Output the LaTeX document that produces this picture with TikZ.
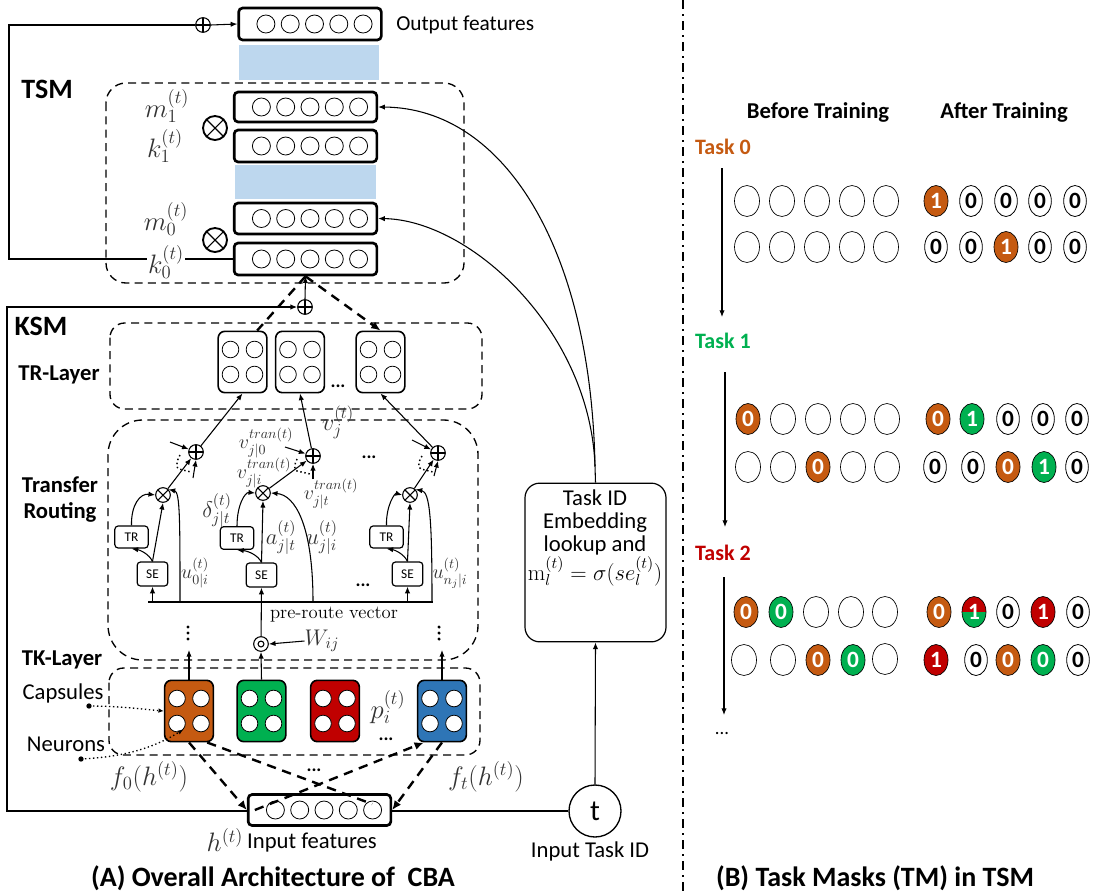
\RequirePackage{fix-cm}
\documentclass[tikz,border=0pt]{standalone}
\usepackage[no-math]{fontspec}
\setmainfont{Carlito}
\usetikzlibrary{arrows.meta,calc,shapes.geometric}
\definecolor{cor}{HTML}{C55A11}
\definecolor{cgr}{HTML}{00B050}
\definecolor{cre}{HTML}{C00000}
\definecolor{cbl}{HTML}{2E75B6}
\definecolor{lblue}{HTML}{BDD7EE}
\definecolor{mgray}{HTML}{333333}
\newcommand\fsz[1]{\fontsize{#1}{#1}\selectfont}
\tikzset{
 vbox/.style={draw, line width=2pt, rounded corners=3pt, fill=white, minimum width=107pt, inner sep=0pt},
 neu/.style={circle, draw, line width=0.6pt, minimum size=13.5pt, inner sep=0pt},
 capb/.style={draw, line width=1.2pt, rounded corners=5pt, minimum width=36.5pt, minimum height=46pt, inner sep=0pt},
 cneu/.style={circle, draw, line width=0.6pt, minimum size=12.5pt, inner sep=0pt},
 dbox/.style={draw, line width=1pt, dash pattern=on 6pt off 4pt},
 arr/.style={-{Latex[length=5pt,width=4pt]}, line width=0.8pt},
 thinline/.style={line width=0.8pt},
 dline/.style={line width=1.8pt, dash pattern=on 7pt off 5pt},
 oplus/.style={circle, draw, line width=0.8pt, minimum size=11pt, inner sep=0pt, fill=white,
   path picture={\draw[line width=0.8pt] (path picture bounding box.north)--(path picture bounding box.south) (path picture bounding box.west)--(path picture bounding box.east);}},
 otimes/.style={circle, draw, line width=0.8pt, minimum size=11pt, inner sep=0pt, fill=white,
   path picture={\draw[line width=0.8pt] (path picture bounding box.north west)--(path picture bounding box.south east) (path picture bounding box.north east)--(path picture bounding box.south west);}},
 otimesL/.style={otimes, minimum size=18pt, line width=1.4pt},
 odot/.style={circle, draw, line width=0.8pt, minimum size=11pt, inner sep=0pt, fill=white,
   path picture={\draw[line width=0.8pt] (path picture bounding box.center) circle (2.2pt);}},
 sbox/.style={draw, line width=0.9pt, rounded corners=2.5pt, inner sep=0pt, fill=white, font=\fsz{10}},
 mlab/.style={text=mgray, inner sep=1pt, font=\fsz{20}},
 slab/.style={text=mgray, inner sep=0pt, font=\fsz{15}},
 blab/.style={font=\fsz{17}\bfseries, inner sep=0pt},
 rlab/.style={font=\fsz{17}, inner sep=0pt},
 dots/.style={font=\fsz{14}\bfseries, inner sep=0pt},
 emp/.style={ellipse, draw, line width=0.5pt, minimum width=18.75pt, minimum height=23.25pt, inner sep=0pt, fill=white, font=\fsz{17.5}\bfseries},
 wz/.style={emp, minimum width=17pt, line width=0.6pt},
 fo/.style={emp, fill=cor, text=white, minimum width=18pt},
 fg/.style={emp, fill=cgr, text=white, minimum width=18pt},
 fr/.style={emp, fill=cre, text=white, minimum width=18pt},
 frg/.style={emp, text=white, minimum width=18pt,
   path picture={\fill[cre] (path picture bounding box.north west) rectangle (path picture bounding box.east);
                 \fill[cgr] (path picture bounding box.west) rectangle (path picture bounding box.south east);}},
 tasklab/.style={font=\fsz{16.5}\bfseries, inner sep=0pt},
 title/.style={font=\fsz{21}\bfseries, inner sep=0pt},
}
\newcommand\vecbox[4]{%
  \node[vbox, minimum height=#4*0.75pt] (#1) at (#2,#3) {};
  \foreach \k in {0,...,4}{\node[neu] (#1n\k) at ($(#1.center)+(\k*24.3-44.1,0)$) {};}
}
\newcommand\capsule[4]{%
  \node[capb, fill=#4] (#1) at (#2,#3) {};
  \foreach \dx/\dy/\n in {-12/-12.5/a,12/-12.5/b,-12/12.5/c,12/12.5/d}{\node[cneu, fill=white] (#1\n) at ($(#1.center)+(\dx,\dy)$) {};}
}
\newcommand\mk[5]{\node[#2] (#1) at (#3,#4) {#5};}
\begin{document}
\begin{tikzpicture}[x=0.75pt,y=-0.75pt]
\useasboundingbox (0,0) rectangle (1095,893);
% ================= TSM =================
\fill[lblue] (239,45) rectangle (379,80);
\fill[lblue] (235,165) rectangle (376,199);
\draw[dbox, rounded corners=15pt] (106,83) rectangle (464,283);
\node[font=\fsz{21}\bfseries, inner sep=0pt] (tsmlab) at (47,89) {TSM};
\vecbox{outb}{310}{24}{32}
\node[anchor=west, font=\fsz{16}, inner sep=0pt] (outlab) at (396,25) {Output features};
\vecbox{mone}{305.5}{107}{30}
\vecbox{kone}{305.5}{146}{32}
\vecbox{mzero}{305.5}{218.5}{31}
\vecbox{kzero}{305.5}{259}{32}
\node[otimesL] (xone) at (215,128) {};
\node[otimesL] (xzero) at (215,240) {};
\node[mlab] (lmone) at (167,106) {$m_1^{(t)}$};
\node[mlab] (lkone) at (165,146) {$k_1^{(t)}$};
\node[mlab] (lmzero) at (166,219) {$m_0^{(t)}$};
% skip connection
\coordinate (skA) at (9,259);
\coordinate (skB) at (9,25);
\node[oplus] (topplus) at (203,25) {};
\draw[thinline] (kzero.west) -- (skA) -- (skB) -- (topplus.west);
\draw[arr] (topplus.east) -- (outb.west);
\node[mlab, fill=white] (lkzero) at (166,262) {$k_0^{(t)}$};
% ================= KSM =================
\node[oplus] (ksmplus) at (305,307) {};
\draw[arr] (ksmplus.north) -- (kzero.south);
\node[font=\fsz{21}\bfseries, inner sep=0pt] (ksmlab) at (41,326) {KSM};
% TR-layer
\draw[dbox, rounded corners=11pt] (110,323) rectangle (482,409);
\node[blab] (trlab) at (59,375) {TR-Layer};
\capsule{trone}{242.5}{362}{white}
\capsule{trtwo}{300}{362}{white}
\capsule{trthree}{380.5}{362}{white}
\node[dots] (trdots) at (338,386) {...};
\draw[dline] (kzero.south) -- (trone.65);
\draw[dline, -{Latex[length=7pt,width=6pt]}] (kzero.south) -- (trthree.north);
% Transfer routing box
\draw[dbox, rounded corners=26pt] (108,420) rectangle (478,660);
\node[blab] (tflab) at (60,485) {Transfer};
\node[blab] (rolab) at (60,512) {Routing};
% column a
\node[sbox, minimum width=23pt, minimum height=18pt] (sea) at (152.5,574) {SE};
\node[sbox, minimum width=25pt, minimum height=16.5pt] (tra) at (131.5,537) {TR};
\node[otimes] (xa) at (163,495) {};
\node[oplus] (pa) at (196,452) {};
% column b
\node[sbox, minimum width=23pt, minimum height=18pt] (seb) at (261.5,575) {SE};
\node[sbox, minimum width=25pt, minimum height=17pt] (trb) at (237,538) {TR};
\node[otimes] (xb) at (263,493) {};
\node[oplus] (pb) at (313,456) {};
% column c
\node[sbox, minimum width=23pt, minimum height=18pt] (sec) at (407.5,574) {SE};
\node[sbox, minimum width=25pt, minimum height=16.5pt] (trc) at (386.5,537) {TR};
\node[otimes] (xc) at (410,495) {};
\node[oplus] (pc) at (438,453) {};
% pre-route line
\coordinate (prL) at (148,602);
\coordinate (prR) at (433,602);
\draw[thinline] (prL) -- (prR);
\node[inner sep=0pt, font=\fsz{14}\fontfamily{lmr}\selectfont] (prlab) at (334,615) {pre-route vector};
\draw[arr] (sea.south |- prL) -- (sea.south);
\draw[arr] (sec.south |- prL) -- (sec.south);
% SE -> TR, SE -> x, TR -> x
\draw[arr] (sea.north) .. controls (149,554) and (140,550) .. (tra.south);
\draw[arr] (seb.north) .. controls (258,555) and (248,551) .. (trb.south);
\draw[arr] (sec.north) .. controls (404,554) and (395,550) .. (trc.south);
\draw[arr] (sea.north) -- (xa.south);
\draw[arr] (seb.north) -- (xb.south);
\draw[arr] (sec.north) -- (xc.south);
\draw[arr] (tra.north) .. controls (131,505) and (140,493) .. (xa.west);
\draw[arr] (trb.north) .. controls (237,505) and (245,492) .. (xb.west);
\draw[arr] (trc.north) .. controls (386,505) and (395,493) .. (xc.west);
% u arcs
\coordinate (ua) at (180,602);
\coordinate (ub) at (313,602);
\coordinate (uc) at (432,602);
\draw[arr] (ua) .. controls (180,520) and (180,492) .. (xa.north east);
\draw[arr] (ub) .. controls (313,525) and (295,495) .. (xb.east);
\draw[arr] (uc) .. controls (432,520) and (430,492) .. (xc.north east);
% x -> plus
\draw[arr] (xa) -- (pa);
\draw[arr] (xb) -- (pb);
\draw[arr] (xc) -- (pc);
% other inputs to plus
\coordinate (paU) at (170,442); \coordinate (paD) at (193,478);
\coordinate (pbU) at (285,447); \coordinate (pbD) at (313,479);
\coordinate (pcU) at (412,440); \coordinate (pcD) at (434,476);
\draw[arr] (paU) -- (pa); \draw[arr] (paD) -- (pa.south);
\draw[arr] (pbU) -- (pb); \draw[arr] (pbD) -- (pb.south);
\draw[arr] (pcU) -- (pc); \draw[arr] (pcD) -- (pc.south);
\draw[dotted, line width=1.1pt] (180,455) .. controls (176,462) and (176,468) .. (179,469) -- (191,472);
\draw[dotted, line width=1.1pt] (297,459) .. controls (294,465) and (294,470) .. (297,471) -- (310,474);
\draw[dotted, line width=1.1pt] (422,456) .. controls (418,462) and (418,468) .. (421,469) -- (433,472);
% plus -> TR capsules
\draw[arr] (pa) -- (trone.south);
\draw[arr] (pb) -- (trtwo.south);
\draw[arr] (pc) -- (trthree.south);
% labels
\node[mlab, font=\fsz{18}] (lvj) at (338,422) {$v_j^{(t)}$};
\node[slab] (lvz) at (266,443) {$v_{j|0}^{tran(t)}$};
\node[slab] (lvi) at (264,473) {$v_{j|i}^{tran(t)}$};
\node[slab] (lvt) at (331,494) {$v_{j|t}^{tran(t)}$};
\node[slab, font=\fsz{17}] (ldel) at (217,511) {$\delta_{j|t}^{(t)}$};
\node[slab, font=\fsz{17}] (laj) at (281,538) {$a_{j|t}^{(t)}$};
\node[slab, font=\fsz{17}] (luj) at (322,538) {$u_{j|i}^{(t)}$};
\node[slab] (luz) at (195,573) {$u_{0|i}^{(t)}$};
\node[slab] (lun) at (450,573) {$u_{n_j|i}^{(t)}$};
\node[dots] (pdots) at (369,457) {...};
\node[dots] (sdots) at (363,585) {...};
% W_ij
\node[odot] (wd) at (261,644) {};
\draw[arr] (wd) -- (seb.south);
\node[slab, font=\fsz{17}] (lw) at (322,641) {$W_{ij}$};
\draw[arr] (lw.west) -- (wd.east);
\foreach \yy in {627,633,639}{\fill (188,\yy) circle (1.3pt); \fill (439,\yy) circle (1.3pt);}
% ================= TK layer =================
\draw[dbox, rounded corners=11pt] (109,668) rectangle (480,755);
\node[blab] (tklab) at (62,660) {TK-Layer};
\capsule{co}{189}{711}{cor}
\capsule{cg}{261.5}{711}{cgr}
\capsule{cr}{335}{711}{cre}
\capsule{cb}{442}{711}{cbl}
\coordinate (tkup) at (0,650);
\draw[arr] (co.north) -- (co.north |- tkup);
\draw[arr] (cb.north) -- (cb.north |- tkup);
\draw[arr] (cg.north) -- (wd.south);
\node[mlab] (lp) at (388,707) {$p_i^{(t)}$};
\node[dots] (cdots) at (386,739) {...};
\node[rlab] (caplab) at (63,693) {Capsules};
\node[rlab] (neulab) at (66,744) {Neurons};
\coordinate (dotA) at (89,706);
\coordinate (dotB) at (81,759);
\fill (dotA) circle (2pt);
\fill (dotB) circle (2pt);
\draw[dotted, line width=1pt, -{Latex[length=4pt,width=3.5pt]}] (dotA) .. controls (120,706) and (140,709) .. (co.west);
\draw[dotted, line width=1pt, -{Latex[length=4pt,width=3.5pt]}] (dotB) .. controls (120,757) and (150,750) .. (coc.south east);
\node[mlab] (lfz) at (149,777) {$f_0(h^{(t)})$};
\node[mlab] (lft) at (486,777) {$f_t(h^{(t)})$};
\node[dots] (fdots) at (314,770) {...};
% ================= Task ID =================
\node[circle, draw, line width=1pt, minimum size=39pt, inner sep=0pt, font=\fsz{22}, fill=white] (tc) at (595,811) {t};
\node[rlab] (tclab) at (590,851) {Input Task ID};
\node[draw, line width=0.9pt, rounded corners=11pt, minimum width=105.75pt, minimum height=119pt, inner sep=0pt] (tid) at (595.5,562.5) {};
\node[align=center, font=\fontsize{17}{17.2}\selectfont, inner sep=0pt] (tidtxt) at (595,538) {Task ID\\Embedding\\lookup and\\$\mathrm{m}_l^{(t)}=\sigma(se_l^{(t)})$};
\draw[arr] (tc.north) -- (tid.south);
\coordinate (tsplit) at (595,466);
\draw[thinline] (tid.north) -- (tsplit);
\draw[arr] (tsplit) .. controls (591,250) and (505,108) .. (mone.east);
\draw[arr] (tsplit) .. controls (590,330) and (470,220) .. (mzero.east);
% KSM task line
\coordinate (ksmBL) at (7,811);
\coordinate (ksmTL) at (7,307);
\draw[arr] (tc.west) -- (ksmBL) -- (ksmTL) -- (ksmplus.west);
% input features
\vecbox{inb}{319.5}{810}{31}
\draw[dline, -{Latex[length=7pt,width=6pt]}] (co.south) -- (inb.west);
\draw[dline] (co.-60) -- ($(inb.east)+(-20,-6)$);
\draw[dline, -{Latex[length=7pt,width=6pt]}] (cb.south) -- (inb.east);
\draw[dline, -{Latex[length=7pt,width=6pt]}] ($(inb.west)+(8,0)$) -- (cb.-120);
\node[mlab] (lh) at (225,840) {$h^{(t)}$};
\node[rlab] (inlab) at (312,843) {Input features};
\node[title] (tA) at (273,878) {(A) Overall Architecture of\ \ CBA};
% ================= separator =================
\coordinate (sepT) at (683,0);
\coordinate (sepB) at (683,893);
\draw[line width=1.7pt, dash pattern=on 6.75pt off 3.75pt on 1.5pt off 3.75pt] (sepT) -- (sepB);
% ================= right panel =================
\node[blab] (bt) at (818,112) {Before Training};
\node[blab] (aft) at (1004,112) {After Training};
\node[tasklab, text=cor] (task0) at (723,147) {Task 0};
\node[tasklab, text=cgr] (task1) at (723,341) {Task 1};
\node[tasklab, text=cre] (task2) at (723,553) {Task 2};
\coordinate (a0s) at (722,168); \coordinate (a0e) at (722,317);
\coordinate (a1s) at (725,372); \coordinate (a1e) at (725,527);
\coordinate (a2s) at (724,577); \coordinate (a2e) at (724,715);
\draw[arr] (a0s) -- (a0e);
\draw[arr] (a1s) -- (a1e);
\draw[arr] (a2s) -- (a2e);
\node[font=\fsz{14}, inner sep=0pt] (edots) at (722,734) {...};
% Task 0
\mk{tab1}{emp}{747}{201}{} \mk{tab2}{emp}{782}{201}{} \mk{tab3}{emp}{817}{201}{} \mk{tab4}{emp}{852}{201}{} \mk{tab5}{emp}{886}{201}{}
\mk{taa1}{fo}{936}{201}{1} \mk{taa2}{wz}{971}{201}{0} \mk{taa3}{wz}{1006}{201}{0} \mk{taa4}{wz}{1040}{201}{0} \mk{taa5}{wz}{1075}{201}{0}
\mk{tbb1}{emp}{747}{247}{} \mk{tbb2}{emp}{782}{247}{} \mk{tbb3}{emp}{817}{247}{} \mk{tbb4}{emp}{852}{247}{} \mk{tbb5}{emp}{886}{247}{}
\mk{tba1}{wz}{936}{247}{0} \mk{tba2}{wz}{971}{247}{0} \mk{tba3}{fo}{1006}{247}{1} \mk{tba4}{wz}{1040}{247}{0} \mk{tba5}{wz}{1075}{247}{0}
% Task 1
\mk{tcb1}{fo}{748}{419}{0} \mk{tcb2}{emp}{783}{419}{} \mk{tcb3}{emp}{818}{419}{} \mk{tcb4}{emp}{853}{419}{} \mk{tcb5}{emp}{887}{419}{}
\mk{tca1}{fo}{938}{419}{0} \mk{tca2}{fg}{972}{419}{1} \mk{tca3}{wz}{1008}{419}{0} \mk{tca4}{wz}{1043}{419}{0} \mk{tca5}{wz}{1077}{419}{0}
\mk{tdb1}{emp}{748}{467}{} \mk{tdb2}{emp}{783}{467}{} \mk{tdb3}{fo}{818}{467}{0} \mk{tdb4}{emp}{853}{467}{} \mk{tdb5}{emp}{887}{467}{}
\mk{tda1}{wz}{935}{467}{0} \mk{tda2}{wz}{973}{467}{0} \mk{tda3}{fo}{1008}{467}{0} \mk{tda4}{fg}{1044}{467}{1} \mk{tda5}{wz}{1077}{467}{0}
% Task 2
\mk{teb1}{fo}{746}{612}{0} \mk{teb2}{fg}{781}{612}{0} \mk{teb3}{emp}{816}{612}{} \mk{teb4}{emp}{851}{612}{} \mk{teb5}{emp}{885}{612}{}
\mk{tea1}{fo}{939}{612}{0} \mk{tea2}{frg}{974}{612}{1} \mk{tea3}{wz}{1008}{612}{0} \mk{tea4}{fr}{1043}{612}{1} \mk{tea5}{wz}{1078}{612}{0}
\mk{tfb1}{emp}{744}{660}{} \mk{tfb2}{emp}{783}{660}{} \mk{tfb3}{fo}{818}{660}{0} \mk{tfb4}{fg}{853}{660}{0} \mk{tfb5}{emp}{885}{659}{}
\mk{tfa1}{fr}{936}{660}{1} \mk{tfa2}{wz}{976}{660}{0} \mk{tfa3}{fo}{1008}{660}{0} \mk{tfa4}{fg}{1043}{660}{0} \mk{tfa5}{wz}{1078}{660}{0}
\node[title] (tB) at (875,878) {(B) Task Masks (TM) in TSM};
\end{tikzpicture}
\end{document}
